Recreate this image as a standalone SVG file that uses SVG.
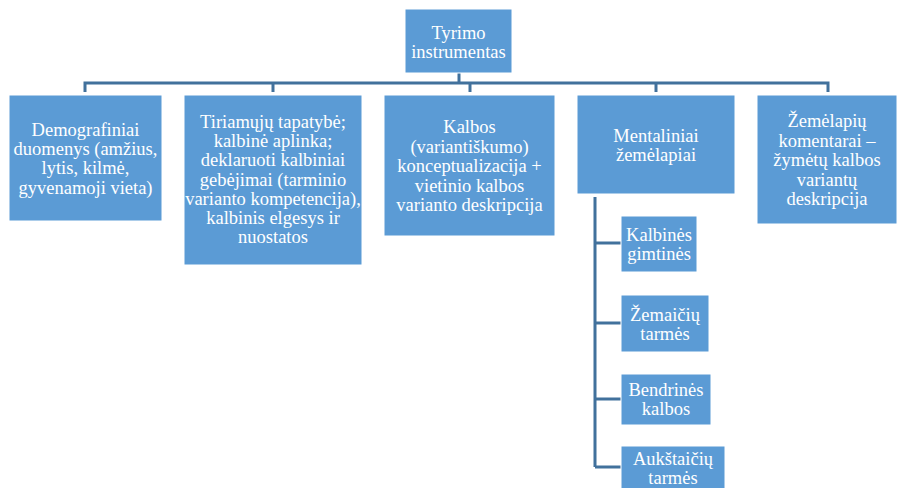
<svg xmlns="http://www.w3.org/2000/svg" width="902" height="488" viewBox="0 0 902 488">
  <style>
    .box { fill: #5B9BD5; stroke: #FFFFFF; stroke-width: 1; }
    .lbl { font-size: 18.5px; fill: #FFFFFF; text-anchor: middle; }
    .conn { fill: none; stroke: #41719C; stroke-width: 3; }
  </style>
  <rect width="902" height="488" fill="#FFFFFF"/>

  <!-- connectors -->
  <g id="connectors" class="conn">
    <path d="M459 73 V83"/>
    <path d="M85 92 V83 H828 V92"/>
    <path d="M273 83 V92"/>
    <path d="M470 83 V92"/>
    <path d="M656 83 V92"/>
    <path d="M595 197 V467"/>
    <path d="M595 243 H621"/>
    <path d="M595 323 H621"/>
    <path d="M595 399 H621"/>
    <path d="M595 467 H621"/>
  </g>

  <g id="nodes" font-family="Liberation Serif, serif">
    <g id="root">
      <rect class="box" x="405" y="9" width="107" height="64"/>
      <text class="lbl" x="458.5" y="39">Tyrimo</text>
      <text class="lbl" x="458.5" y="58">instrumentas</text>
    </g>

    <g id="demografiniai">
      <rect class="box" x="9" y="95" width="153" height="126"/>
      <text class="lbl" x="85.5" y="135.5">Demografiniai</text>
      <text class="lbl" x="85.5" y="154.5">duomenys (amžius,</text>
      <text class="lbl" x="85.5" y="174">lytis, kilmė,</text>
      <text class="lbl" x="85.5" y="193.5">gyvenamoji vieta)</text>
    </g>

    <g id="tapatybe">
      <rect class="box" x="184" y="95" width="178" height="170"/>
      <text class="lbl" x="273" y="128">Tiriamųjų tapatybė;</text>
      <text class="lbl" x="273" y="147.2">kalbinė aplinka;</text>
      <text class="lbl" x="273" y="166.4">deklaruoti kalbiniai</text>
      <text class="lbl" x="273" y="185.6">gebėjimai (tarminio</text>
      <text class="lbl" x="273" y="204.8">varianto kompetencija),</text>
      <text class="lbl" x="273" y="224">kalbinis elgesys ir</text>
      <text class="lbl" x="273" y="243.2">nuostatos</text>
    </g>

    <g id="konceptualizacija">
      <rect class="box" x="384" y="95" width="171" height="141"/>
      <text class="lbl" x="469.5" y="133">Kalbos</text>
      <text class="lbl" x="469.5" y="152.5">(variantiškumo)</text>
      <text class="lbl" x="469.5" y="172">konceptualizacija +</text>
      <text class="lbl" x="469.5" y="191.5">vietinio kalbos</text>
      <text class="lbl" x="469.5" y="211">varianto deskripcija</text>
    </g>

    <g id="mentaliniai">
      <rect class="box" x="577" y="95" width="158" height="99"/>
      <text class="lbl" x="656" y="142">Mentaliniai</text>
      <text class="lbl" x="656" y="161">žemėlapiai</text>
    </g>

    <g id="komentarai">
      <rect class="box" x="757" y="95" width="140" height="129"/>
      <text class="lbl" x="827" y="127">Žemėlapių</text>
      <text class="lbl" x="827" y="146.5">komentarai –</text>
      <text class="lbl" x="827" y="166">žymėtų kalbos</text>
      <text class="lbl" x="827" y="185.5">variantų</text>
      <text class="lbl" x="827" y="205">deskripcija</text>
    </g>

    <g id="gimtines">
      <rect class="box" x="621" y="216" width="76" height="56"/>
      <text class="lbl" x="659" y="240.5">Kalbinės</text>
      <text class="lbl" x="659" y="259.5">gimtinės</text>
    </g>

    <g id="zemaiciu">
      <rect class="box" x="621" y="295" width="88" height="57"/>
      <text class="lbl" x="665" y="321">Žemaičių</text>
      <text class="lbl" x="665" y="340">tarmės</text>
    </g>

    <g id="bendrines">
      <rect class="box" x="621" y="374" width="90" height="51"/>
      <text class="lbl" x="666" y="395.5">Bendrinės</text>
      <text class="lbl" x="666" y="414.5">kalbos</text>
    </g>

    <g id="aukstaiciu">
      <rect class="box" x="621" y="446" width="104" height="46"/>
      <text class="lbl" x="673" y="465">Aukštaičių</text>
      <text class="lbl" x="673" y="484">tarmės</text>
    </g>
  </g>
</svg>
